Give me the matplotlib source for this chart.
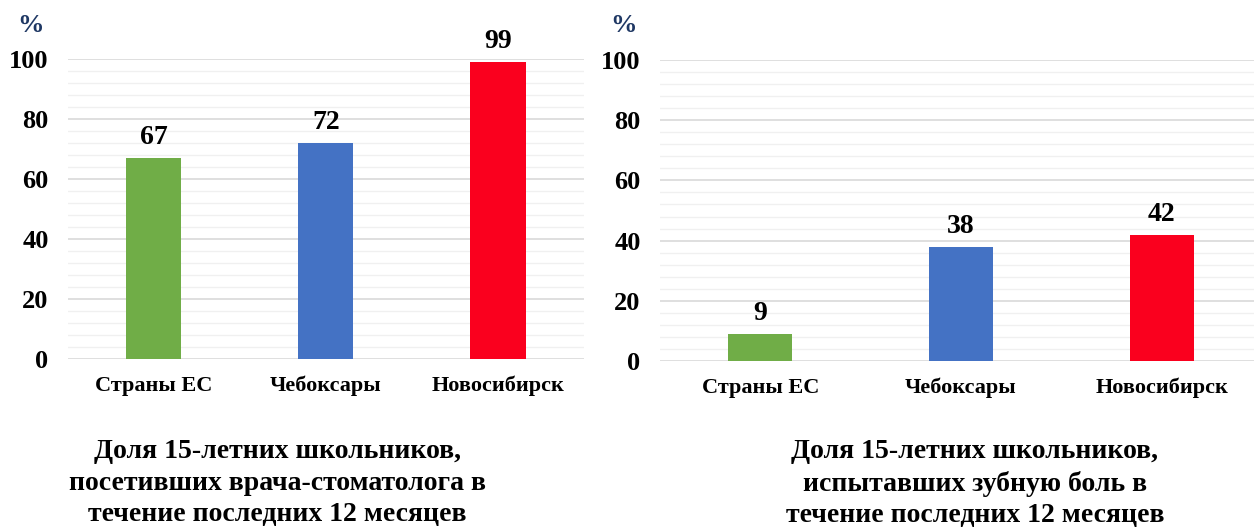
import matplotlib.pyplot as plt
from matplotlib.ticker import MultipleLocator

# Данные
categories = ['Страны ЕС', 'Чебоксары', 'Новосибирск']
visited_dentist = [67, 72, 99]
toothache = [9, 38, 42]
bar_colors = ['#70AD47', '#4472C4', '#FA001E']
yticks = [0, 20, 40, 60, 80, 100]

title_left = 'Доля 15-летних школьников,\nпосетивших врача-стоматолога в\nтечение последних 12 месяцев'
title_right = 'Доля 15-летних школьников,\nиспытавших зубную боль в\nтечение последних 12 месяцев'

plt.rcParams['font.family'] = ['Liberation Serif', 'DejaVu Serif']
plt.rcParams['font.weight'] = 'bold'


def draw_panel(ax, values, xlim_right):
    x = range(len(categories))
    ax.bar(x, values, width=0.32, color=bar_colors, zorder=3)
    for xi, v in zip(x, values):
        ax.text(xi, v + 2.6, str(v), ha='center', va='bottom',
                fontsize=20, fontweight='bold')
    ax.set_xlim(-0.5, xlim_right)
    ax.set_ylim(0, 100)
    ax.set_yticks(yticks)
    ax.yaxis.set_minor_locator(MultipleLocator(4))
    ax.grid(axis='y', which='major', color='#d9d9d9', linewidth=1.2, zorder=0)
    ax.grid(axis='y', which='minor', color='#f0f0f0', linewidth=1.0, zorder=0)
    ax.set_xticks(list(x))
    ax.set_xticklabels(categories, fontsize=16, fontweight='bold')
    ax.tick_params(axis='y', labelsize=19, length=0, pad=14)
    ax.tick_params(axis='x', length=0, pad=12)
    ax.tick_params(which='minor', length=0)
    for lbl in ax.get_yticklabels():
        lbl.set_fontweight('bold')
    for s in ax.spines.values():
        s.set_visible(False)


fig = plt.figure(figsize=(12.54, 5.28), dpi=100)

ax1 = fig.add_axes([0.0542, 0.3201, 0.4115, 0.5682])
draw_panel(ax1, visited_dentist, 2.5)

ax2 = fig.add_axes([0.5263, 0.3163, 0.4737, 0.5701])
# правая панель обрезана краем рисунка
draw_panel(ax2, toothache, 2.5 - 8 / 201)

fig.text(0.0245, 0.952, '%', color='#1F3864', fontsize=19, fontweight='bold',
         ha='center', va='center')
fig.text(0.4970, 0.952, '%', color='#1F3864', fontsize=19, fontweight='bold',
         ha='center', va='center')

fig.text(0.221, 0.0852, title_left, ha='center', va='center', fontsize=20,
         fontweight='bold', linespacing=1.32)
fig.text(0.7775, 0.0845, title_right, ha='center', va='center', fontsize=20,
         fontweight='bold', linespacing=1.32)

fig.savefig('out.png', dpi=100)
